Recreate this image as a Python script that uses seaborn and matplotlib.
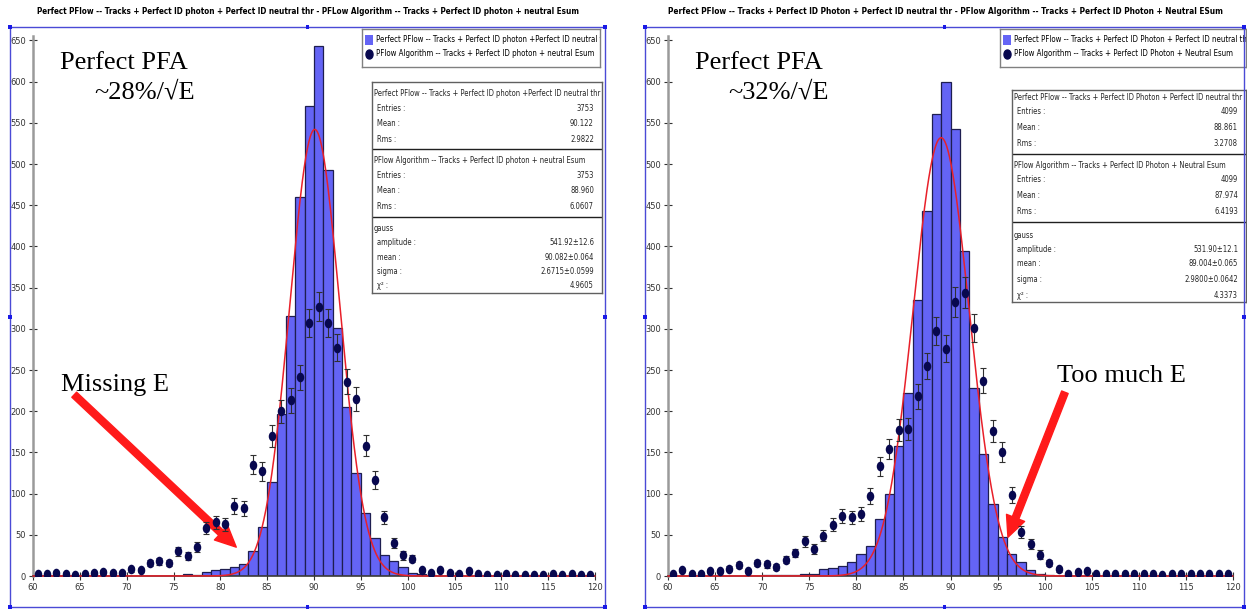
import numpy as np
import pandas as pd
import seaborn as sns
import matplotlib
matplotlib.use("Agg")
import matplotlib.pyplot as plt
from matplotlib.patches import Rectangle
from matplotlib.path import Path
from matplotlib import font_manager
from matplotlib.font_manager import FontProperties

# ---------------- data ----------------
bin_edges = np.arange(60, 121, 1)
bin_centers = bin_edges[:-1] + 0.5
x_ticks = [60, 65, 70, 75, 80, 85, 90, 95, 100, 105, 110, 115, 120]
y_ticks = [0, 50, 100, 150, 200, 250, 300, 350, 400, 450, 500, 550, 600, 650]

# left panel (Perfect PFlow histogram, PFlow Algorithm points)
left_perfect = [0, 0, 0, 0, 0, 0, 0, 0, 0, 0,
                0, 0, 0, 0, 0, 0, 3, 1, 5, 7,
                9, 11, 15, 30, 59, 114, 197, 315, 460, 570,
                643, 493, 301, 205, 125, 76, 46, 25, 18, 11,
                4, 2, 1, 0, 0, 0, 0, 0, 0, 0,
                0, 0, 0, 0, 0, 0, 0, 0, 0, 0]
left_algo = [2, 2, 4, 3, 1, 2, 4, 5, 4, 4,
             8, 7, 16, 18, 16, 30, 24, 35, 58, 65,
             63, 85, 82, 135, 127, 170, 200, 213, 241, 307,
             327, 307, 277, 236, 215, 158, 117, 71, 40, 25,
             21, 7, 4, 7, 4, 2, 6, 2, 1, 1,
             2, 1, 1, 1, 1, 2, 1, 2, 1, 1]
left_fit = {"amplitude": 541.92, "mean": 90.082, "sigma": 2.6715}

# right panel
right_perfect = [0, 0, 0, 0, 0, 0, 0, 0, 0, 0,
                 1, 1, 1, 1, 3, 3, 9, 10, 12, 17,
                 27, 36, 69, 100, 158, 222, 335, 443, 561, 600,
                 543, 394, 228, 148, 87, 47, 27, 17, 7, 3,
                 1, 0, 0, 0, 0, 0, 0, 0, 0, 0,
                 0, 0, 0, 0, 0, 0, 0, 0, 0, 0]
right_algo = [2, 7, 3, 3, 6, 6, 9, 13, 6, 16,
              14, 11, 20, 28, 42, 33, 49, 62, 73, 71,
              75, 97, 133, 154, 177, 178, 218, 255, 297, 276,
              333, 344, 301, 237, 176, 150, 98, 53, 39, 26,
              16, 8, 3, 5, 6, 2, 3, 2, 3, 2,
              2, 2, 1, 2, 2, 2, 2, 2, 2, 2]
right_fit = {"amplitude": 531.90, "mean": 89.004, "sigma": 2.9800}

left_title = ("Perfect PFlow -- Tracks + Perfect ID photon + Perfect ID neutral thr - "
              "PFLow Algorithm -- Tracks + Perfect ID photon + neutral Esum")
right_title = ("Perfect PFlow -- Tracks + Perfect ID Photon + Perfect ID neutral thr - "
               "PFlow Algorithm -- Tracks + Perfect ID Photon + Neutral ESum")

left_labels = ["Perfect PFlow -- Tracks + Perfect ID photon +Perfect ID neutral thr",
               "PFlow Algorithm -- Tracks + Perfect ID photon + neutral Esum"]
right_labels = ["Perfect PFlow -- Tracks + Perfect ID Photon + Perfect ID neutral thr",
                "PFlow Algorithm -- Tracks + Perfect ID Photon + Neutral Esum"]

left_stats = [("Entries :", "3753"), ("Mean :", "90.122"), ("Rms :", "2.9822"),
              ("Entries :", "3753"), ("Mean :", "88.960"), ("Rms :", "6.0607"),
              ("amplitude :", "541.92±12.6"), ("mean :", "90.082±0.064"),
              ("sigma :", "2.6715±0.0599"), ("χ² :", "4.9605")]
right_stats = [("Entries :", "4099"), ("Mean :", "88.861"), ("Rms :", "3.2708"),
               ("Entries :", "4099"), ("Mean :", "87.974"), ("Rms :", "6.4193"),
               ("amplitude :", "531.90±12.1"), ("mean :", "89.004±0.065"),
               ("sigma :", "2.9800±0.0642"), ("χ² :", "4.3373")]

left_notes = ["Perfect PFA", "~28%/√E", "Missing E"]
right_notes = ["Perfect PFA", "~32%/√E", "Too much E"]

# ---------------- style ----------------
W, H, DPI = 1247, 610, 100
sns.set_theme(style="white")
plt.rcParams["font.family"] = ["DejaVu Sans"]


def pick_font(bold):
    want = 700 if bold else 400
    entries = font_manager.fontManager.ttflist
    prefs = []
    for f in entries:
        nm = f.name + " " + str(getattr(f, "fname", ""))
        narrow = ("Narrow" in nm or "Condensed" in nm
                  or str(f.stretch) in ("condensed", "semi-condensed"))
        if not narrow or f.style != "normal":
            continue
        w = f.weight if isinstance(f.weight, int) else (700 if "bold" in str(f.weight) else 400)
        if abs(w - want) > 100:
            continue
        rank = 0 if "Liberation" in nm else (1 if "DejaVu" in nm else 2)
        prefs.append((rank, f.fname))
    if prefs:
        prefs.sort()
        return FontProperties(fname=prefs[0][1])
    return FontProperties(family="DejaVu Sans", weight="bold" if bold else "normal")


FP = pick_font(False)
FPB = pick_font(True)
SERIF = "Liberation Serif"

BAR_FACE = "#6464f5"
BAR_EDGE = "#1e1e50"
DOT = "#08084f"
FIT = "#e8202a"
FRAME = "#4a4ad6"

fig = plt.figure(figsize=(W / DPI, H / DPI), dpi=DPI)
fig.patch.set_facecolor("white")
renderer = fig.canvas.get_renderer()


def fit_size(text, target_px, fp):
    p = fp.copy()
    p.set_size(10)
    t = fig.text(0, 0, text, fontproperties=p)
    w = t.get_window_extent(renderer).width
    t.remove()
    return 10 * target_px / w


TICK_FS = fit_size("650", 16, FP)
LEG_FS = fit_size(left_labels[1], 218, FP)
STAT_FS = fit_size(left_labels[1], 214, FP)


def fprop(fp, size):
    p = fp.copy()
    p.set_size(size)
    return p


circ = Path.unit_circle()
ellipse = Path(circ.vertices * np.array([0.78, 1.0]), circ.codes)


def fx(px):
    return px / W


def fy(py):
    return 1 - py / H


def frame(x0, y0, x1, y1):
    fig.add_artist(Rectangle((fx(x0), fy(y1)), (x1 - x0) / W, (y1 - y0) / H,
                             transform=fig.transFigure, fill=False,
                             edgecolor=FRAME, lw=1.0))
    xm, ym = (x0 + x1) / 2, (y0 + y1) / 2
    for (x, y) in [(x0, y0), (x1, y0), (x0, y1), (x1, y1),
                   (xm, y0), (xm, y1), (x0, ym), (x1, ym)]:
        fig.add_artist(Rectangle((fx(x - 1.8), fy(y + 1.8)), 3.6 / W, 3.6 / H,
                                 transform=fig.transFigure, color="#1a1ae6", lw=0))


def panel(ax_px, hist, pts, fit, notes, note_pos, arrow, frame_px, title, title_span,
          legend_px, labels, stats_px, stats, row_y):
    x0, x1, y0 = ax_px
    ppu = 0.824
    ymax = 655
    ax = fig.add_axes([fx(x0), fy(y0), (x1 - x0) / W, ymax * ppu / H])
    df = pd.DataFrame({"E": bin_centers, "perfect": hist, "algo": pts})
    sns.histplot(data=df, x="E", weights="perfect", binwidth=1, binrange=(60, 120),
                 ax=ax, color=BAR_FACE, edgecolor=BAR_EDGE, linewidth=0.9, alpha=1.0,
                 zorder=1)
    xs = np.linspace(60, 120, 1201)
    ax.plot(xs, fit["amplitude"] * np.exp(-0.5 * ((xs - fit["mean"]) / fit["sigma"]) ** 2),
            color=FIT, lw=1.1, zorder=3, clip_on=False)
    ax.errorbar(df["E"], df["algo"], yerr=np.sqrt(df["algo"]), fmt="none",
                ecolor="#303030", elinewidth=0.8, capsize=2.2, capthick=0.8, zorder=4)
    sns.scatterplot(data=df, x="E", y="algo", ax=ax, marker=ellipse, s=48,
                    color=DOT, edgecolor=DOT, linewidth=0, zorder=5, legend=False)
    ax.set_xlim(60, 120)
    ax.set_ylim(0, ymax)
    ax.set_xticks(x_ticks)
    ax.set_yticks(y_ticks)
    ax.set_xlabel("")
    ax.set_ylabel("")
    ax.set_facecolor("none")
    for s in ["top", "right"]:
        ax.spines[s].set_visible(False)
    ax.spines["left"].set_color("#9a9a9a")
    ax.spines["left"].set_linewidth(1.8)
    ax.spines["bottom"].set_color("#3a3a3a")
    ax.spines["bottom"].set_linewidth(1.2)
    ax.tick_params(axis="both", direction="inout", length=6, width=0.8, color="#333333",
                   labelcolor="#333333", pad=2, left=True, bottom=True)
    for lab in ax.get_xticklabels() + ax.get_yticklabels():
        lab.set_fontproperties(fprop(FP, TICK_FS))

    # annotations
    for (nx, ny), note in zip(note_pos, notes):
        ax.text(nx, ny, note, family=SERIF, fontsize=19, color="black",
                va="baseline", ha="left")
    ax.annotate("", xy=arrow[1], xytext=arrow[0],
                arrowprops=dict(facecolor="#ff1a1a", edgecolor="#ff1a1a", width=5.0,
                                headwidth=14, headlength=15, shrink=0))

    frame(*frame_px)
    tsize = fit_size(title, title_span[1] - title_span[0], FPB)
    fig.text(fx(sum(title_span) / 2), fy(12), title, ha="center", va="center",
             fontproperties=fprop(FPB, tsize), color="black")

    # legend box
    lx0, ly0, lx1, ly1 = legend_px
    lax = fig.add_axes([fx(lx0), fy(ly1), (lx1 - lx0) / W, (ly1 - ly0) / H])
    lax.set_xlim(0, lx1 - lx0)
    lax.set_ylim(ly1 - ly0, 0)
    lax.set_xticks([])
    lax.set_yticks([])
    for s in lax.spines.values():
        s.set_color("#808080")
        s.set_linewidth(1.0)
    ra, rb = 11, 25
    lax.add_patch(Rectangle((3, ra - 5), 8, 10, color=BAR_FACE, lw=0))
    lax.plot([7], [rb], marker=ellipse, markersize=6.5, color=DOT, lw=0)
    for yy, lab in zip([ra, rb], labels):
        lax.text(14, yy, lab, fontproperties=fprop(FP, LEG_FS), va="center", ha="left",
                 color="black", clip_on=True)

    # stats box
    sx0, sy0, sx1, sy1 = stats_px
    sax = fig.add_axes([fx(sx0), fy(sy1), (sx1 - sx0) / W, (sy1 - sy0) / H])
    sax.set_xlim(0, sx1 - sx0)
    sax.set_ylim(sy1 - sy0, 0)
    sax.set_xticks([])
    sax.set_yticks([])
    for s in sax.spines.values():
        s.set_color("#606060")
        s.set_linewidth(1.0)
    sp = fprop(FP, STAT_FS)
    headers = [labels[0], labels[1], "gauss"]
    heads_y, seps_y, rows_y = row_y
    for yy, hh in zip(heads_y, headers):
        sax.text(2, yy - sy0, hh, fontproperties=sp, va="center", ha="left", clip_on=True)
    for yy in seps_y:
        sax.axhline(yy - sy0, color="#202020", lw=1.0)
    for yy, (k, v) in zip(rows_y, stats):
        sax.text(5, yy - sy0, k, fontproperties=sp, va="center", ha="left", clip_on=True)
        sax.text(sx1 - sx0 - 8, yy - sy0, v, fontproperties=sp, va="center", ha="right",
                 clip_on=True)
    return ax


panel(ax_px=(33, 595, 576), hist=left_perfect, pts=left_algo, fit=left_fit,
      notes=left_notes,
      note_pos=[(62.9, 615), (66.5, 579), (63.0, 224)],
      arrow=[(64.4, 220), (81.7, 35)],
      frame_px=(10, 27, 605, 607), title=left_title, title_span=(38, 578),
      legend_px=(362, 29, 600, 67), labels=left_labels,
      stats_px=(372, 82, 602, 293), stats=left_stats,
      row_y=([93, 160, 228], [149, 217],
             [108, 123.5, 139, 175, 190.5, 206, 242.5, 257, 271, 285.5]))

panel(ax_px=(668, 1233, 576), hist=right_perfect, pts=right_algo, fit=right_fit,
      notes=right_notes,
      note_pos=[(62.9, 615), (66.4, 579), (101.3, 236)],
      arrow=[(102.15, 223), (96.1, 47)],
      frame_px=(645, 27, 1244, 607), title=right_title, title_span=(670, 1220),
      legend_px=(1000, 29, 1246, 67), labels=right_labels,
      stats_px=(1012, 90, 1246, 302), stats=right_stats,
      row_y=([97, 165, 235], [154, 222],
             [112, 127, 143, 180, 196, 211, 250, 264, 280, 295]))

fig.savefig("out.png", dpi=DPI, facecolor="white")
